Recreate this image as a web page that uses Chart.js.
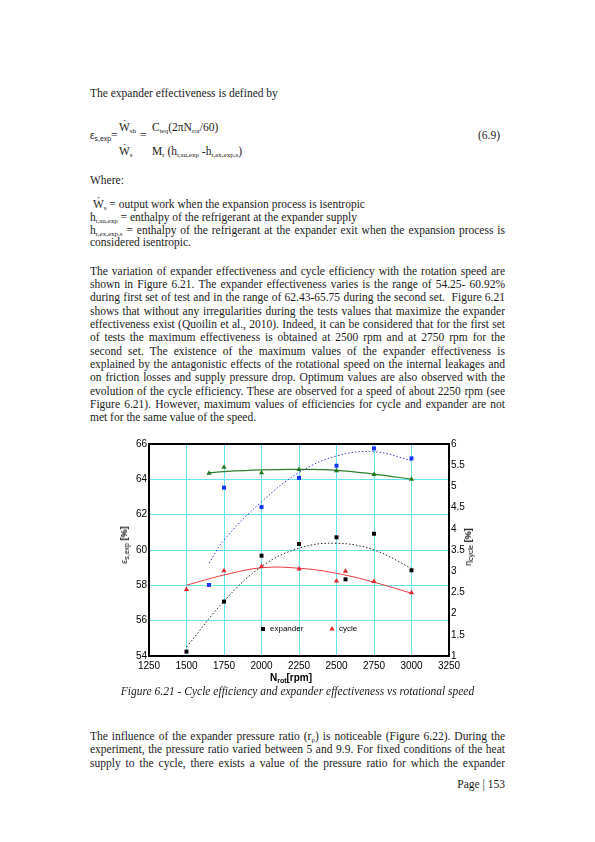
<!DOCTYPE html>
<html>
<head>
<meta charset="utf-8">
<script src="https://cdn.jsdelivr.net/npm/chart.js@4.4.1/dist/chart.umd.min.js"></script>
<style>
  body { margin: 0; width: 595px; height: 842px; background: #fff; position: relative;
         font-family: "Liberation Serif", "DejaVu Serif", serif; font-size: 11.5px; color: #1a1a1a; }
  .l { position: absolute; left: 90px; width: 415px; height: 13px; line-height: 13px; white-space: nowrap; }
  .j { white-space: normal; text-align: justify; text-align-last: justify; overflow: hidden; }
  sub { font-size: 7px; vertical-align: -2px; line-height: 0; }
  .eq { position: absolute; white-space: nowrap; line-height: 12px; }
  .ax { position: absolute; font-family: "Liberation Sans", Arial, sans-serif; white-space: nowrap; color: #000; }
  .ax sub { font-size: 7px; }
  #chartBox { position: absolute; left: 95px; top: 436px; width: 415px; height: 250px; }
</style>
</head>
<body>

<div class="l" style="top:87px">The expander effectiveness is defined by</div>

<div class="eq" style="left:90px;top:130px;font-family:'Liberation Sans',sans-serif;font-size:10px">ε<sub>s,exp</sub></div>
<div class="eq" style="left:111px;top:129px">=</div>
<div class="eq" style="left:119px;top:121px">Ẇ<sub>sh</sub></div>
<div class="eq" style="left:140px;top:129px">=</div>
<div class="eq" style="left:152px;top:121px">C<sub>teq</sub>(2πN<sub>rot</sub>/60)</div>
<div class="eq" style="left:119px;top:145px">Ẇ<sub>s</sub></div>
<div class="eq" style="left:152px;top:145px">M<sub>r</sub> (h<sub>r,su,exp</sub> -h<sub>r,ex,exp,s</sub>)</div>
<div class="eq" style="left:478px;top:129px">(6.9)</div>

<div class="l" style="top:174px">Where:</div>
<div class="l" style="top:198px">&nbsp;Ẇ<sub>s</sub> = output work when the expansion process is isentropic</div>
<div class="l" style="top:211px">h<sub>r,su,exp</sub> = enthalpy of the refrigerant at the expander supply</div>
<div class="l j" style="top:224px">h<sub>r,ex,exp,s</sub> = enthalpy of the refrigerant at the expander exit when the expansion process is</div>
<div class="l" style="top:236px">considered isentropic.</div>

<div class="l j" style="top:265px">The variation of expander effectiveness and cycle efficiency with the rotation speed are</div>
<div class="l j" style="top:278px">shown in Figure 6.21. The expander effectiveness varies is the range of 54.25- 60.92%</div>
<div class="l j" style="top:291px">during first set of test and in the range of 62.43-65.75 during the second set. &nbsp;Figure 6.21</div>
<div class="l j" style="top:305px">shows that without any irregularities during the tests values that maximize the expander</div>
<div class="l j" style="top:318px">effectiveness exist (Quoilin et al., 2010). Indeed, it can be considered that for the first set</div>
<div class="l j" style="top:331px">of tests the maximum effectiveness is obtained at 2500 rpm and at 2750 rpm for the</div>
<div class="l j" style="top:345px">second set. The existence of the maximum values of the expander effectiveness is</div>
<div class="l j" style="top:358px">explained by the antagonistic effects of the rotational speed on the internal leakages and</div>
<div class="l j" style="top:371px">on friction losses and supply pressure drop. Optimum values are also observed with the</div>
<div class="l j" style="top:385px">evolution of the cycle efficiency. These are observed for a speed of about 2250 rpm (see</div>
<div class="l j" style="top:398px">Figure 6.21). However, maximum values of efficiencies for cycle and expander are not</div>
<div class="l" style="top:411px">met for the same value of the speed.</div>

<div id="chartBox"><canvas id="rpmChart"></canvas></div>
<div class="ax" style="left:124px;top:545px;font-size:9px;transform:translate(-50%,-50%) rotate(-90deg)">ε<sub>s,exp</sub> <b>[%]</b></div>
<div class="ax" style="left:468px;top:547px;font-size:9px;transform:translate(-50%,-50%) rotate(-90deg)">η<sub>cycle</sub> <b>[%]</b></div>
<div class="ax" style="left:291px;top:677px;font-size:10px;font-weight:bold;transform:translate(-50%,-50%)">N<sub>rot</sub>[rpm]</div>

<div class="l" style="top:685px;left:0;width:595px;text-align:center;font-style:italic">Figure 6.21 - Cycle efficiency and expander effectiveness vs rotational speed</div>

<div class="l j" style="top:730px">The influence of the expander pressure ratio (r<sub>p</sub>) is noticeable (Figure 6.22). During the</div>
<div class="l j" style="top:743px">experiment, the pressure ratio varied between 5 and 9.9. For fixed conditions of the heat</div>
<div class="l j" style="top:757px">supply to the cycle, there exists a value of the pressure ratio for which the expander</div>
<div class="l" style="top:778px;text-align:right">Page | 153</div>

<script>
// first set of tests
const rpmSet1 = [1500, 1750, 2000, 2250, 2500, 2560, 2750, 3000];
const expanderSet1 = [54.25, 57.08, 59.68, 60.34, 60.72, 58.34, 60.92, 58.85];
const cycleSet1 = [2.57, 3.01, 3.11, 3.05, 2.77, 3.0, 2.76, 2.49];

// second set of tests
const rpmSet2 = [1650, 1750, 2000, 2250, 2500, 2750, 3000];
const expanderSet2 = [58.02, 63.53, 62.43, 64.08, 64.77, 65.75, 65.19];
const cycleSet2 = [5.31, 5.45, 5.32, 5.40, 5.37, 5.28, 5.17];

// trend lines
const fitRpm1 = [1500, 1750, 2000, 2250, 2500, 2750, 3000];
const expanderFit1 = [54.5, 57.1, 59.06, 60.1, 60.38, 60.0, 58.96];
const cycleFit1 = [2.67, 2.91, 3.08, 3.07, 2.95, 2.74, 2.48];
const fitRpm2 = [1650, 1750, 2000, 2250, 2500, 2750, 3000];
const expanderFit2 = [59.25, 60.57, 62.73, 64.38, 65.32, 65.56, 65.06];
const cycleFit2 = [5.32, 5.35, 5.39, 5.40, 5.38, 5.29, 5.17];

const xTicks = [1250, 1500, 1750, 2000, 2250, 2500, 2750, 3000, 3250];

function pts(xs, ys) {
  return xs.map((x, i) => ({ x: x, y: ys[i] }));
}

const gridCyan = "#66e2f0";
const tickFont = { family: "Liberation Sans", size: 10 };
const plainTick = (v) => String(v);

// black frame round the plot area
const framePlugin = {
  id: "frame",
  afterDatasetsDraw(chart) {
    const { ctx, chartArea: a } = chart;
    ctx.save();
    ctx.strokeStyle = "#000";
    ctx.lineWidth = 2;
    ctx.strokeRect(a.left, a.top, a.right - a.left, a.bottom - a.top);
    ctx.restore();
  },
};

// small legend inside the plot (only the first set is named)
const innerLegend = {
  id: "innerLegend",
  afterDraw(chart) {
    const { ctx } = chart;
    const xs = chart.scales.x;
    const ys = chart.scales.y;
    const yPix = ys.getPixelForValue(55.53);
    ctx.save();
    ctx.font = "8px 'Liberation Sans'";
    ctx.textBaseline = "middle";
    [0, 1].forEach((i, k) => {
      const ds = chart.data.datasets[i];
      const xPix = xs.getPixelForValue(k === 0 ? 2010 : 2470);
      ctx.fillStyle = ds.backgroundColor;
      ctx.strokeStyle = ds.borderColor;
      Chart.helpers.drawPoint(ctx, {
        pointStyle: ds.pointStyle,
        radius: ds.pointRadius,
        borderWidth: 0,
      }, xPix, yPix);
      ctx.fillStyle = "#000";
      ctx.fillText(ds.label, xPix + 7, yPix);
    });
    ctx.restore();
  },
};

const ctx = document.getElementById("rpmChart").getContext("2d");
const rpmChart = new Chart(ctx, {
  type: "scatter",
  data: {
    datasets: [
      {
        label: "expander",
        data: pts(rpmSet1, expanderSet1),
        yAxisID: "y",
        pointStyle: "rect",
        pointRadius: 2.8,
        backgroundColor: "#000",
        borderColor: "#000",
        borderWidth: 0,
      },
      {
        label: "cycle",
        data: pts(rpmSet1, cycleSet1),
        yAxisID: "y1",
        pointStyle: "triangle",
        pointRadius: 3,
        backgroundColor: "#e3262b",
        borderColor: "#e3262b",
        borderWidth: 0,
      },
      {
        label: "expander set 2",
        data: pts(rpmSet2, expanderSet2),
        yAxisID: "y",
        pointStyle: "rect",
        pointRadius: 2.8,
        backgroundColor: "#1236f0",
        borderColor: "#1236f0",
        borderWidth: 0,
      },
      {
        label: "cycle set 2",
        data: pts(rpmSet2, cycleSet2),
        yAxisID: "y1",
        pointStyle: "triangle",
        pointRadius: 3,
        backgroundColor: "#26761f",
        borderColor: "#26761f",
        borderWidth: 0,
      },
      {
        label: "expander fit 1",
        data: pts(fitRpm1, expanderFit1),
        yAxisID: "y",
        showLine: true,
        pointRadius: 0,
        borderColor: "#222",
        borderWidth: 1,
        borderDash: [1.5, 2],
        tension: 0.4,
      },
      {
        label: "cycle fit 1",
        data: pts(fitRpm1, cycleFit1),
        yAxisID: "y1",
        showLine: true,
        pointRadius: 0,
        borderColor: "#e8393c",
        borderWidth: 1,
        tension: 0.4,
      },
      {
        label: "expander fit 2",
        data: pts(fitRpm2, expanderFit2),
        yAxisID: "y",
        showLine: true,
        pointRadius: 0,
        borderColor: "#3b3bd9",
        borderWidth: 1,
        borderDash: [1.5, 2],
        tension: 0.4,
      },
      {
        label: "cycle fit 2",
        data: pts(fitRpm2, cycleFit2),
        yAxisID: "y1",
        showLine: true,
        pointRadius: 0,
        borderColor: "#2f7d2a",
        borderWidth: 1.2,
        tension: 0.4,
      },
    ],
  },
  options: {
    responsive: true,
    maintainAspectRatio: false,
    animation: false,
    layout: { padding: { top: 8 } },
    plugins: {
      legend: { display: false },
      tooltip: { enabled: false },
    },
    scales: {
      x: {
        type: "linear",
        min: 1250,
        max: 3250,
        afterBuildTicks: (scale) => {
          scale.ticks = xTicks.map((v) => ({ value: v }));
        },
        afterFit: (scale) => { scale.height = 30; },
        ticks: { font: tickFont, color: "#000", padding: 4, maxRotation: 0, callback: plainTick },
        grid: { color: gridCyan, lineWidth: 1, drawTicks: false },
        border: { color: "#000", width: 2 },
      },
      y: {
        position: "left",
        min: 54,
        max: 66,
        afterFit: (scale) => { scale.width = 54; },
        ticks: { stepSize: 2, font: tickFont, color: "#000", padding: 2, callback: plainTick },
        grid: { color: gridCyan, lineWidth: 1, drawTicks: false },
        border: { color: "#000", width: 2 },
      },
      y1: {
        position: "right",
        min: 1,
        max: 6,
        afterFit: (scale) => { scale.width = 61; },
        ticks: { stepSize: 0.5, font: tickFont, color: "#000", padding: 2, callback: plainTick },
        grid: { display: false, drawTicks: false },
        border: { color: "#000", width: 2 },
      },
    },
  },
  plugins: [framePlugin, innerLegend],
});
</script>
</body>
</html>
